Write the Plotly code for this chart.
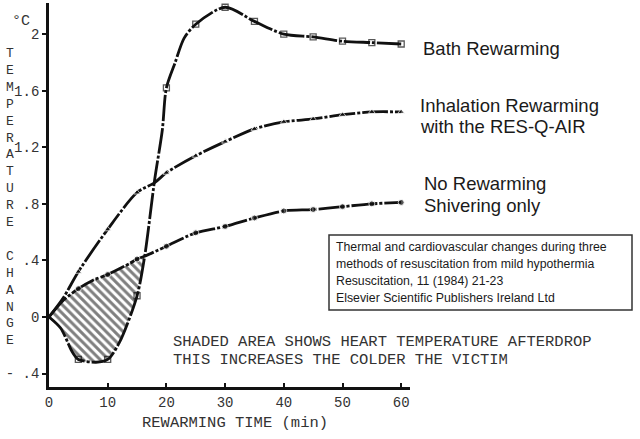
import plotly.graph_objects as go

# ---------------- data ----------------
bath_t = [0, 2, 4, 5, 8, 10, 12, 15, 16.3, 18, 19.3, 20, 21.5, 23, 25, 30, 35, 40, 45, 50, 55, 60]
bath_v = [0, -0.08, -0.25, -0.30, -0.32, -0.30, -0.18, 0.15, 0.43, 0.97, 1.32, 1.62, 1.80, 1.97, 2.07, 2.19, 2.09, 2.00, 1.98, 1.95, 1.94, 1.93]

inhal_t = [0, 2.5, 5, 10, 15, 18, 20, 25, 30, 35, 40, 45, 50, 55, 60]
inhal_v = [0, 0.14, 0.32, 0.62, 0.88, 0.95, 1.02, 1.14, 1.24, 1.33, 1.38, 1.40, 1.43, 1.45, 1.45]

norew_t = [0, 2.5, 5, 7.5, 10, 13.8, 15, 16.3, 20, 25, 30, 35, 40, 45, 50, 55, 60]
norew_v = [0, 0.12, 0.20, 0.26, 0.30, 0.38, 0.41, 0.43, 0.50, 0.595, 0.64, 0.70, 0.75, 0.76, 0.78, 0.80, 0.81]

crossing_t = 16.3  # where bath curve meets the no-rewarming curve (end of afterdrop area)

x_tickvals = [0, 10, 20, 30, 40, 50, 60]
x_ticktext = ["0", "10", "20", "30", "40", "50", "60"]
y_tickvals = [-0.4, 0, 0.4, 0.8, 1.2, 1.6, 2.0]
y_ticktext = ["- .4", "0", ".4", ".8", "1.2", "1.6", "2"]

series_labels = {
    "bath": ["Bath Rewarming"],
    "inhal": ["Inhalation Rewarming", "with the RES-Q-AIR"],
    "norew": ["No Rewarming", "Shivering only"],
}
note_lines = ["SHADED AREA SHOWS HEART TEMPERATURE AFTERDROP",
              "THIS INCREASES THE COLDER THE VICTIM"]
ref_lines = ["Thermal and cardiovascular changes during three",
             "methods of resuscitation from mild hypothermia",
             "Resuscitation, 11 (1984) 21-23",
             "Elsevier Scientific Publishers Ireland Ltd"]
x_title = "REWARMING TIME (min)"
y_title = "TEMPERATURE CHANGE"

# ---------------- layout geometry ----------------
W, H = 640, 439
ML, MR, MT, MB = 49, 230, 3, 52
PW, PH = W - ML - MR, H - MT - MB


def px(x):
    return (x - ML) / PW


def py(y):
    return (H - MB - y) / PH


MONO = "Liberation Mono, Courier New, monospace"
SANS = "Liberation Sans, Arial, sans-serif"


def msizes(ts):
    return [6 if (t % 5 == 0 and t > 0) else 0 for t in ts]


fig = go.Figure()

# hatched afterdrop area: no-rewarming curve up to crossing, then bath curve back
top_t = [t for t in norew_t if t <= crossing_t]
top_v = [v for t, v in zip(norew_t, norew_v) if t <= crossing_t]
bot_t = [t for t in bath_t if t <= crossing_t]
bot_v = [v for t, v in zip(bath_t, bath_v) if t <= crossing_t]
fig.add_trace(go.Scatter(
    x=top_t + bot_t[::-1], y=top_v + bot_v[::-1],
    mode="lines", fill="toself", line=dict(width=0, shape="spline", smoothing=0.8),
    fillcolor="rgba(0,0,0,0)",
    fillpattern=dict(shape="\\", size=6, solidity=0.5, fgcolor="#000", bgcolor="white"),
    hoverinfo="skip", showlegend=False))

line_style = dict(color="#111", width=2.8, shape="spline", smoothing=0.8,
                  dash="26px,2px,3px,2px")
fig.add_trace(go.Scatter(x=bath_t, y=bath_v, mode="lines+markers", line=line_style,
                         marker=dict(symbol="square-open", size=msizes(bath_t), color="#111",
                                     line=dict(width=1.3, color="#111")),
                         name="Bath Rewarming", showlegend=False))
fig.add_trace(go.Scatter(x=inhal_t, y=inhal_v, mode="lines+markers", line=line_style,
                         marker=dict(symbol="triangle-up", size=msizes(inhal_t), color="#111"),
                         name="Inhalation Rewarming", showlegend=False))
fig.add_trace(go.Scatter(x=norew_t, y=norew_v, mode="lines+markers", line=line_style,
                         marker=dict(symbol="circle", size=msizes(norew_t), color="#111"),
                         name="No Rewarming", showlegend=False))

ann = []


def label(text, x, y, size, font, color="#1a1a1a", xanchor="left"):
    ann.append(dict(text=text, xref="paper", yref="paper", x=px(x), y=py(y),
                    xanchor=xanchor, yanchor="middle", showarrow=False,
                    font=dict(family=font, size=size, color=color)))


# series labels
label(series_labels["bath"][0], 421, 48, 18.5, SANS)
label(series_labels["inhal"][0], 418, 105, 18.5, SANS)
label(series_labels["inhal"][1], 418, 127, 18.5, SANS)
label(series_labels["norew"][0], 422, 183, 18.5, SANS)
label(series_labels["norew"][1], 422, 205, 18.5, SANS)

# reference box text
for i, t in enumerate(ref_lines):
    label(t, 334, 247 + i * 17, 12.3, SANS)

# shaded-area note
label(note_lines[0], 171, 342, 15.5, MONO, color="#333")
label(note_lines[1], 171, 360, 15.5, MONO, color="#333")

# axis titles
label(x_title, 235, 423, 15.5, MONO, color="#333", xanchor="center")
word1, word2 = y_title.split(" ")
vert = "<br>".join(list(word1)) + "<br><br>" + "<br>".join(list(word2))
ann.append(dict(text=vert, xref="paper", yref="paper", x=px(10), y=py(197),
                xanchor="center", yanchor="middle", showarrow=False, align="center",
                font=dict(family=MONO, size=13, color="#333")))
label("°C", 21, 22, 15, MONO, color="#333", xanchor="center")

fig.update_layout(
    width=W, height=H,
    margin=dict(l=ML, r=MR, t=MT, b=MB),
    paper_bgcolor="white", plot_bgcolor="white",
    annotations=ann,
    shapes=[dict(type="rect", xref="paper", yref="paper",
                 x0=px(329), x1=px(632), y0=py(310), y1=py(235),
                 line=dict(color="#333", width=1.5), fillcolor="rgba(0,0,0,0)")],
    xaxis=dict(range=[0, 61.5], showgrid=False, zeroline=False,
               showline=True, linecolor="#111", linewidth=2.5,
               tickvals=x_tickvals, ticktext=x_ticktext,
               ticks="inside", ticklen=4, tickwidth=2, tickcolor="#111",
               tickfont=dict(family=MONO, size=14, color="#333")),
    yaxis=dict(range=[-0.495, 2.22], showgrid=False, zeroline=False,
               showline=True, linecolor="#111", linewidth=2.8,
               tickvals=y_tickvals, ticktext=y_ticktext,
               ticks="outside", ticklen=4, tickwidth=2, tickcolor="#111",
               tickfont=dict(family=MONO, size=14, color="#333")),
)

fig.write_html("out.html", config={"displayModeBar": False},
               post_script="document.body.style.margin='0';document.body.style.overflow='hidden';")
